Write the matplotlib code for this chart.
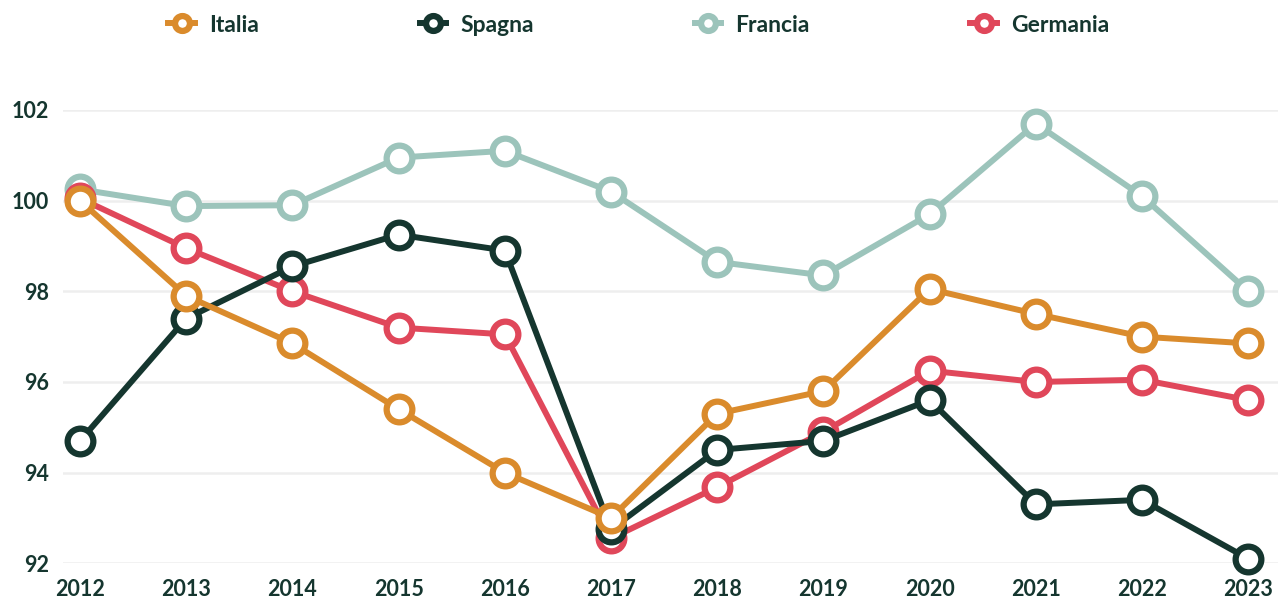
import matplotlib.pyplot as plt
import numpy as np

anni = np.arange(2012, 2024)

italia = [100.0, 97.9, 96.85, 95.4, 94.0, 93.0, 95.3, 95.8, 98.05, 97.5, 97.0, 96.85]
spagna = [94.7, 97.4, 98.55, 99.25, 98.9, 92.75, 94.5, 94.7, 95.6, 93.3, 93.4, 92.1]
francia = [100.25, 99.88, 99.9, 100.95, 101.1, 100.2, 98.65, 98.35, 99.7, 101.7, 100.1, 98.0]
germania = [100.05, 98.95, 98.0, 97.2, 97.05, 92.55, 93.68, 94.9, 96.25, 96.0, 96.05, 95.6]

serie = ["Italia", "Spagna", "Francia", "Germania"]
valori = [italia, spagna, francia, germania]
colori = ["#DA8B2C", "#15362F", "#9CC4BB", "#E0475A"]
ordine = [5, 4, 2, 3]  # zorder: Italia sopra, Francia sotto

testo = "#15362F"
plt.rcParams["font.family"] = ["Lato", "DejaVu Sans"]

fig = plt.figure(figsize=(12.78, 5.99), dpi=100)
ax = fig.add_axes([63 / 1278, 1 - 563.3 / 599, 1 - 63 / 1278, (563.3 - 110) / 599])

for nome, val, col, z in zip(serie, valori, colori, ordine):
    ax.plot(anni, val, "-o", color=col, lw=4.3, ms=18.5, mew=4.5,
            mfc="white", mec=col, label=nome, zorder=z, clip_on=False)

ax.set_xlim(2011.84, 2023.28)
ax.set_ylim(92, 102)
ax.set_xticks(anni)
ax.set_yticks([92, 94, 96, 98, 100, 102])
ax.grid(axis="y", color="#EEEEEE", lw=1.8)
ax.set_axisbelow(True)
for s in ax.spines.values():
    s.set_visible(False)
ax.tick_params(length=0, colors=testo, labelsize=15.5)
ax.tick_params(axis="x", pad=11)
ax.tick_params(axis="y", pad=10)
for lab in ax.get_xticklabels() + ax.get_yticklabels():
    lab.set_fontweight("bold")

fig.legend(loc="center", bbox_to_anchor=(0.5, 1 - 25 / 599), ncol=4, frameon=False,
           prop={"size": 16.5, "weight": "bold"}, labelcolor=testo,
           handlelength=1.15, handletextpad=0.64, columnspacing=7.0, markerscale=0.58)

fig.savefig("out.png", dpi=100)
